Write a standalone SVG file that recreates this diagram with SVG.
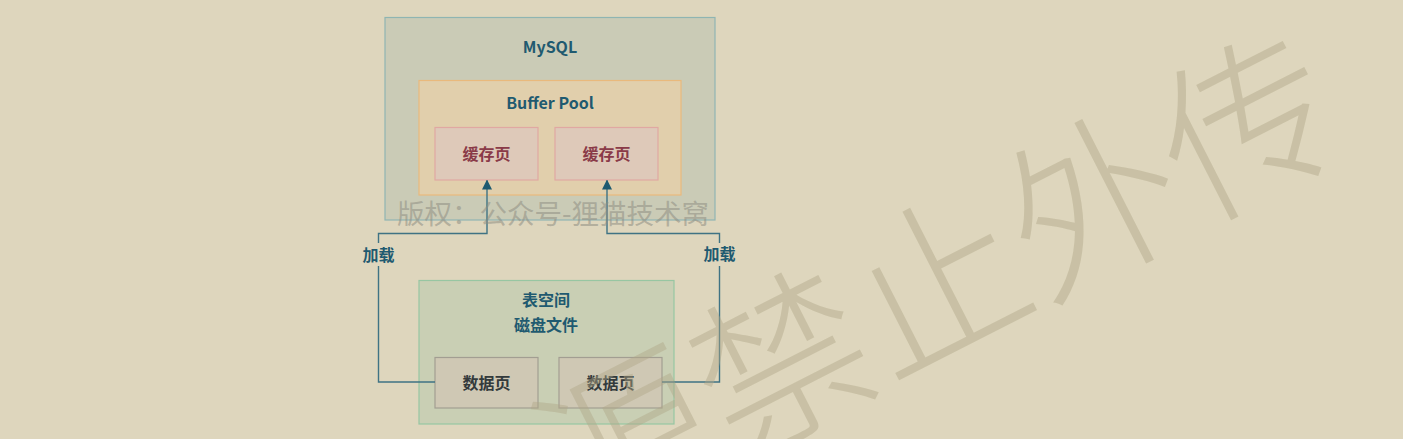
<svg xmlns="http://www.w3.org/2000/svg" width="1403" height="439" viewBox="0 0 1403 439">
<defs>
<style>
.t{font-family:"Noto Sans CJK SC","Noto Sans",sans-serif;font-weight:bold;font-size:16px;text-anchor:middle;fill:#1f5a70}
.cache{fill:#dec9b9;stroke:#e0a8a2;stroke-width:1.2}
.data{fill:#cfc8b4;stroke:#a29e92;stroke-width:1.2}
.conn{fill:none;stroke:#3f7384;stroke-width:1.4}
</style>
<marker id="arr" viewBox="0 0 10 10" refX="9" refY="5" markerWidth="10" markerHeight="10" markerUnits="userSpaceOnUse" orient="auto">
<path d="M0,0 L10,5 L0,10 z" fill="#1d5a70"/>
</marker>
</defs>
<rect x="0" y="0" width="1403" height="439" fill="#ded6bd"/>
<g id="mysql">
<rect x="385" y="17.5" width="330" height="202.5" fill="#cacbb6" stroke="#8fb5b2" stroke-width="1.2"/>
<text class="t" x="550" y="53">MySQL</text>
</g>
<g id="bufferpool">
<rect x="419" y="80.5" width="262" height="114.5" fill="#e1cfac" stroke="#e9b97c" stroke-width="1.2"/>
<text class="t" x="550" y="109">Buffer Pool</text>
</g>
<g id="cache1">
<rect class="cache" x="435" y="127.5" width="103" height="52.5"/>
<text class="t" x="486.5" y="160" style="fill:#8a3a48">缓存页</text>
</g>
<g id="cache2">
<rect class="cache" x="555" y="127.5" width="103" height="52.5"/>
<text class="t" x="606.5" y="160" style="fill:#8a3a48">缓存页</text>
</g>
<g id="tablespace">
<rect x="419" y="280.5" width="255" height="143.5" fill="#c9cfb4" stroke="#97c6a2" stroke-width="1.2"/>
<text class="t" x="546" y="306">表空间</text>
<text class="t" x="546" y="331">磁盘文件</text>
</g>
<g id="data1">
<rect class="data" x="435" y="357.5" width="103" height="50.5"/>
<text class="t" x="486.5" y="389" style="fill:#333a3c">数据页</text>
</g>
<g id="data2">
<rect class="data" x="559" y="357.5" width="103" height="50.5"/>
<text class="t" x="610.5" y="389" style="fill:#333a3c">数据页</text>
</g>
<g id="connectors">
<path class="conn" d="M435,382 H378.5 V266"/>
<path class="conn" d="M378.5,243 V233.5 H487 V180.5" marker-end="url(#arr)"/>
<path class="conn" d="M662,382 H719.5 V266"/>
<path class="conn" d="M719.5,243 V233.5 H607 V180.5" marker-end="url(#arr)"/>
<text class="t" x="378.5" y="261">加载</text>
<text class="t" x="719.5" y="260">加载</text>
</g>
<text x="397" y="224" font-family="'Noto Sans CJK SC',sans-serif" font-size="27.5" fill="#8e8d82" fill-opacity="0.55">版权：公众号-狸猫技术窝</text>
<g transform="translate(1250,127) rotate(-27)">
<text x="85" y="62" text-anchor="end" font-family="'Noto Sans CJK SC',sans-serif" font-weight="300" font-size="174" fill="#b0a688" fill-opacity="0.45">源禁止外传</text>
</g>
</svg>
